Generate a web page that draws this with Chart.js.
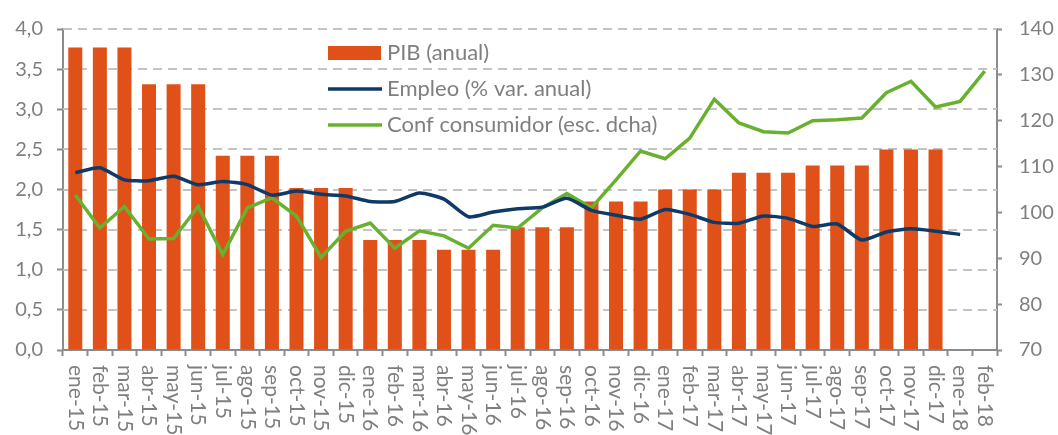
<!DOCTYPE html>
<html>
<head>
<meta charset="utf-8">
<script src="https://cdn.jsdelivr.net/npm/chart.js@4.4.1/dist/chart.umd.min.js"></script>
<style>
body { margin: 0; background: #fff; }
</style>
</head>
<body>
<canvas id="chart" width="1058" height="435"></canvas>
<script>
var meses = ['ene-15','feb-15','mar-15','abr-15','may-15','jun-15','jul-15','ago-15','sep-15','oct-15','nov-15','dic-15',
    'ene-16','feb-16','mar-16','abr-16','may-16','jun-16','jul-16','ago-16','sep-16','oct-16','nov-16','dic-16',
    'ene-17','feb-17','mar-17','abr-17','may-17','jun-17','jul-17','ago-17','sep-17','oct-17','nov-17','dic-17',
    'ene-18','feb-18'];

// PIB anual (trimestral, repetido cada mes)
var pib = [3.77, 3.77, 3.77, 3.31, 3.31, 3.31, 2.42, 2.42, 2.42, 2.02, 2.02, 2.02,
    1.37, 1.37, 1.37, 1.25, 1.25, 1.25, 1.53, 1.53, 1.53, 1.85, 1.85, 1.85,
    2.00, 2.00, 2.00, 2.21, 2.21, 2.21, 2.30, 2.30, 2.30, 2.50, 2.50, 2.50,
    null, null];

var empleo = [2.21, 2.27, 2.12, 2.11, 2.165, 2.06, 2.10, 2.06, 1.93, 1.98, 1.94, 1.92,
    1.85, 1.85, 1.955, 1.88, 1.66, 1.72, 1.76, 1.78, 1.89, 1.74, 1.68, 1.63,
    1.75, 1.69, 1.59, 1.58, 1.67, 1.64, 1.54, 1.57, 1.37, 1.47, 1.51, 1.48,
    1.44, null];

var confianza = [103.8, 96.6, 101.3, 94.2, 94.3, 101.3, 90.8, 101.0, 103.2, 99.2, 90.2, 95.9,
    97.7, 92.2, 96.0, 94.9, 92.2, 97.2, 96.6, 101.0, 104.1, 101.0, 107.1, 113.4,
    111.7, 116.2, 124.7, 119.5, 117.6, 117.3, 120.0, 120.2, 120.6, 126.1, 128.6, 123.0,
    124.2, 130.8];

var gris = '#7f7f7f';
var eje = '#8c8c8c';
var fuente = 'Lato';

// lineas de rejilla discontinuas (eje izquierdo)
var rejilla = {
    id: 'rejilla',
    beforeDatasetsDraw: function(chart) {
        var ctx = chart.ctx;
        var y = chart.scales.y;
        var a = chart.chartArea;
        ctx.save();
        ctx.strokeStyle = '#c3c3c3';
        ctx.lineWidth = 2;
        ctx.setLineDash([9, 6]);
        y.ticks.forEach(function(t) {
            var py = Math.round(y.getPixelForValue(t.value));
            if (t.value == 0) return;
            ctx.beginPath();
            ctx.moveTo(a.left, py);
            ctx.lineTo(a.right, py);
            ctx.stroke();
        });
        ctx.restore();
    }
};

// etiquetas del eje x giradas 90 grados (de arriba a abajo)
var xLabels = {
    id: 'xLabels',
    afterDraw: function(chart) {
        var ctx = chart.ctx;
        var x = chart.scales.x;
        ctx.save();
        ctx.fillStyle = gris;
        ctx.font = '21px ' + fuente;
        ctx.textAlign = 'left';
        ctx.textBaseline = 'middle';
        for (var i = 0; i < meses.length; i++) {
            ctx.save();
            ctx.translate(x.getPixelForTick(i), x.top + 15);
            ctx.rotate(Math.PI / 2);
            ctx.fillText(meses[i], 0, 0);
            ctx.restore();
        }
        ctx.restore();
    }
};

// leyenda dentro del area del grafico
var leyenda = {
    id: 'leyenda',
    afterDraw: function(chart) {
        var ctx = chart.ctx;
        var x0 = 328, y0 = 53, paso = 36;
        ctx.save();
        ctx.font = '22px ' + fuente;
        ctx.textAlign = 'left';
        ctx.textBaseline = 'middle';
        chart.data.datasets.forEach(function(ds, i) {
            var y = y0 + i * paso;
            if (ds.type == 'bar') {
                ctx.fillStyle = ds.backgroundColor;
                ctx.fillRect(x0, y - 7, 53, 14);
            } else {
                ctx.strokeStyle = ds.borderColor;
                ctx.lineWidth = 3.5;
                ctx.beginPath();
                ctx.moveTo(x0, y);
                ctx.lineTo(x0 + 54, y);
                ctx.stroke();
            }
            ctx.fillStyle = gris;
            ctx.fillText(ds.label, x0 + 59, y);
        });
        ctx.restore();
    }
};

var ctx = document.getElementById('chart').getContext('2d');
var chart = new Chart(ctx, {
    type: 'bar',
    data: {
        labels: meses,
        datasets: [{
            type: 'bar',
            label: 'PIB (anual)',
            data: pib,
            backgroundColor: '#e05019',
            categoryPercentage: 1,
            barPercentage: 0.57,
            yAxisID: 'y',
            order: 3
        }, {
            type: 'line',
            label: 'Empleo (% var. anual)',
            data: empleo,
            borderColor: '#0f3a68',
            borderWidth: 3.5,
            pointRadius: 0,
            tension: 0.2,
            yAxisID: 'y',
            order: 1
        }, {
            type: 'line',
            label: 'Conf consumidor (esc. dcha)',
            data: confianza,
            borderColor: '#68b12f',
            borderWidth: 3.5,
            pointRadius: 0,
            tension: 0,
            yAxisID: 'y1',
            order: 2
        }]
    },
    options: {
        responsive: false,
        animation: false,
        layout: { padding: { top: 26, left: 0, right: 0, bottom: 0 } },
        plugins: {
            legend: { display: false },
            tooltip: { enabled: false }
        },
        scales: {
            x: {
                offset: true,
                grid: {
                    offset: true,
                    drawOnChartArea: false,
                    tickLength: 6,
                    tickColor: eje,
                    tickWidth: 2
                },
                border: { color: eje, width: 2 },
                ticks: { display: false },
                afterFit: function(s) { s.height = 85; }
            },
            y: {
                position: 'left',
                min: 0,
                max: 4,
                ticks: {
                    stepSize: 0.5,
                    padding: 14,
                    color: gris,
                    font: { family: fuente, size: 20 },
                    callback: function(v) { return v.toFixed(1).replace('.', ','); }
                },
                grid: {
                    drawOnChartArea: false,
                    tickLength: 6,
                    tickColor: eje,
                    tickWidth: 2
                },
                border: { color: eje, width: 2 },
                afterFit: function(s) { s.width = 63; }
            },
            y1: {
                position: 'right',
                min: 70,
                max: 140,
                ticks: {
                    stepSize: 10,
                    padding: 17,
                    color: gris,
                    font: { family: fuente, size: 20 }
                },
                grid: {
                    drawOnChartArea: false,
                    tickLength: 5,
                    tickColor: eje,
                    tickWidth: 2
                },
                border: { color: eje, width: 2 },
                afterFit: function(s) { s.width = 61; }
            }
        }
    },
    plugins: [rejilla, xLabels, leyenda]
});
</script>
</body>
</html>
